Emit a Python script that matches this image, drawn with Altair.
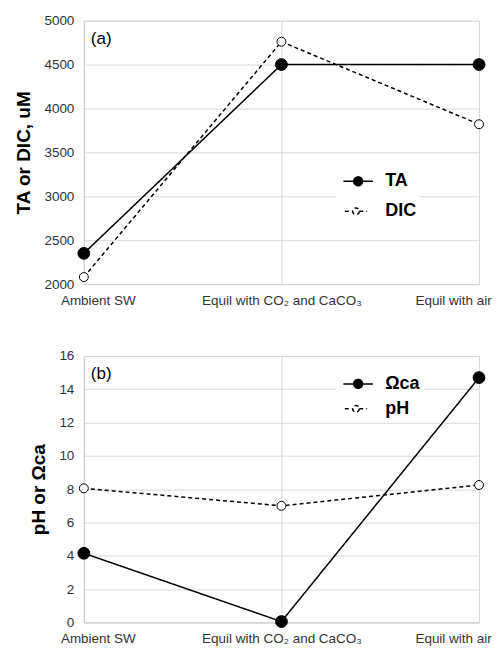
import altair as alt
import pandas as pd

categories = ["Ambient SW", "Equil with CO₂ and CaCO₃", "Equil with air"]
ta = [2350, 4500, 4500]
dic = [2080, 4760, 3820]
omega_ca = [4.15, 0.05, 14.7]
ph = [8.05, 7.0, 8.25]

series_a = ["TA", "DIC"]
series_b = ["Ωca", "pH"]

df_a = pd.DataFrame({"cat": categories * 2, "value": ta + dic,
                     "series": [series_a[0]] * 3 + [series_a[1]] * 3})
df_b = pd.DataFrame({"cat": categories * 2, "value": omega_ca + ph,
                     "series": [series_b[0]] * 3 + [series_b[1]] * 3})

FONT = "Liberation Sans"
W = 396

legend_path = ("M-1,0L0.75,0M2.25,0L4,0"
               "M2.25,0A0.75,0.75,0,1,1,0.75,0A0.75,0.75,0,1,1,2.25,0Z")

label_offset = {
    "condition": [
        {"test": "datum.label == 'Ambient SW'", "value": 14},
        {"test": "datum.label == 'Equil with air'", "value": -26},
    ],
    "value": 0,
}


def panel(df, order, ymin, ymax, step, ytitle, tag, lx, ly, rowpad, h):
    x = alt.X("cat:N", sort=categories,
              scale=alt.Scale(type="point", padding=0),
              axis=alt.Axis(title=None, labelAngle=0, grid=True, ticks=False,
                            labelOffset=label_offset, labelPadding=9,
                            domainColor="#d0d0d0", gridColor="#d9d9d9",
                            labelFont=FONT, labelFontSize=13.5,
                            labelColor="#333333"))
    y = alt.Y("value:Q",
              scale=alt.Scale(domain=[ymin, ymax], nice=False, zero=False),
              axis=alt.Axis(title=ytitle, values=list(range(ymin, ymax + 1, step)),
                            format="d",
                            ticks=False, labelPadding=10, domainColor="#d0d0d0",
                            gridColor="#d9d9d9", labelFont=FONT,
                            labelFontSize=13.5, labelColor="#333333",
                            titleFont=FONT, titleFontSize=19,
                            titleFontWeight="bold", titleColor="black",
                            titlePadding=10))
    leg = alt.Legend(title=None, orient="none", legendX=lx, legendY=ly,
                     symbolType=legend_path, symbolSize=256,
                     symbolStrokeColor="black", symbolStrokeWidth=1.5,
                     labelFont=FONT, labelFontSize=18, labelFontWeight="bold",
                     labelColor="black", labelOffset=27, rowPadding=rowpad,
                     padding=4, fillColor="white")
    dash = alt.StrokeDash("series:N", sort=order,
                          scale=alt.Scale(domain=order, range=[[1, 0], [4, 3]]),
                          legend=leg)
    fill = alt.Fill("series:N", sort=order,
                    scale=alt.Scale(domain=order, range=["black", "white"]),
                    legend=leg)
    line = alt.Chart(df).mark_line(color="black", strokeWidth=1.5).encode(
        x=x, y=y, strokeDash=dash)
    pts = alt.Chart(df).mark_circle(stroke="black", strokeWidth=1,
                                    opacity=1).encode(
        x=x, y=y, fill=fill,
        size=alt.Size("series:N", scale=alt.Scale(domain=order, range=[140, 80]),
                      legend=None))
    label = alt.Chart(pd.DataFrame({"t": [tag]})).mark_text(
        align="left", baseline="middle", font=FONT, fontSize=17,
        color="black").encode(text="t:N", x=alt.value(7), y=alt.value(18))
    return alt.layer(line, pts, label).properties(width=W, height=h)


pa = panel(df_a, series_a, 2000, 5000, 500, "TA or DIC, uM", "(a)", 253, 148, 12, 264)
pb = panel(df_b, series_b, 0, 16, 2, "pH or Ωca", "(b)", 253, 15, 7, 267)

chart = alt.vconcat(pa, pb, spacing=41).resolve_scale(
    strokeDash="independent", fill="independent", size="independent"
).resolve_legend(strokeDash="independent", fill="independent").configure_view(
    stroke=None).configure(background="white").properties(
    padding={"left": 6, "top": 4, "right": 0, "bottom": 0})

chart.save("out.html", embed_options={"renderer": "svg", "actions": False})
